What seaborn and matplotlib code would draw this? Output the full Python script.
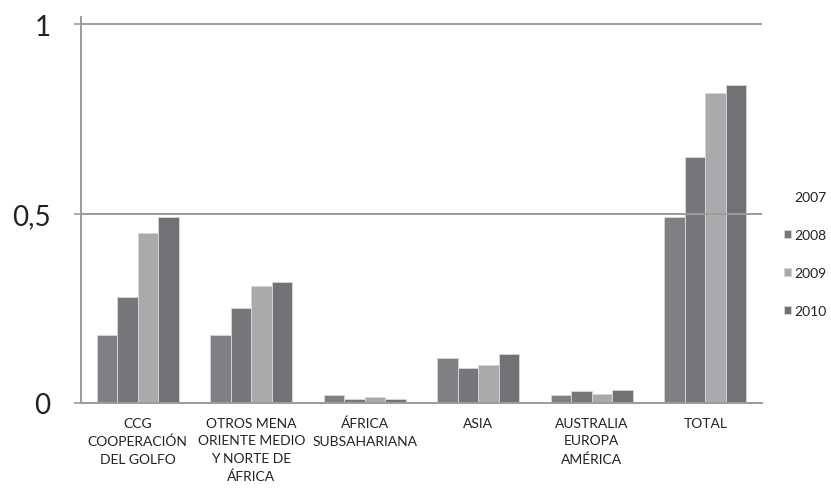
import matplotlib
matplotlib.use("Agg")
import matplotlib.pyplot as plt
import seaborn as sns
import pandas as pd

categories = ["CCG\nCOOPERACIÓN\nDEL GOLFO",
              "OTROS MENA\nORIENTE MEDIO\nY NORTE DE\nÁFRICA",
              "ÁFRICA\nSUBSAHARIANA",
              "ASIA",
              "AUSTRALIA\nEUROPA\nAMÉRICA",
              "TOTAL"]
years = ["2007", "2008", "2009", "2010"]
v2007 = [0.18, 0.18, 0.021, 0.12, 0.02, 0.49]
v2008 = [0.28, 0.25, 0.010, 0.092, 0.031, 0.65]
v2009 = [0.45, 0.31, 0.016, 0.10, 0.025, 0.82]
v2010 = [0.49, 0.32, 0.011, 0.13, 0.035, 0.84]
ytick_vals = [0, 0.5, 1]
ytick_labels = ["0", "0,5", "1"]

colors = ["#808084", "#77777b", "#aaaaac", "#727276"]

rows = []
for y, vals in zip(years, [v2007, v2008, v2009, v2010]):
    for c, v in zip(categories, vals):
        rows.append({"cat": c, "year": y, "val": v})
df = pd.DataFrame(rows)

sns.set_theme(style="white")
plt.rcParams["font.family"] = ["Lato", "DejaVu Sans"]

fig = plt.figure(figsize=(8.31, 4.89), dpi=100)
ax = fig.add_axes([81/831, 1-404/489, (762-81)/831, (404-18.2)/489])

sns.barplot(data=df, x="cat", y="val", hue="year", order=categories,
            hue_order=years, palette=colors, saturation=1, width=0.72,
            edgecolor="#d4d4d4", linewidth=0.7, ax=ax, errorbar=None)

ax.set_ylim(0, 1.019)
ax.set_xlim(-0.5, 5.5)
ax.set_yticks(ytick_vals)
ax.set_yticklabels(ytick_labels, fontsize=20, color="#222222")
ax.yaxis.grid(True, color="#9c9c9c", linewidth=1.4)
ax.set_axisbelow(False)
ax.set_xlabel("")
ax.set_ylabel("")
ax.tick_params(axis="y", length=5, width=1.2, color="#9c9c9c", pad=17, left=True)
ax.tick_params(axis="x", length=0, pad=10, labelsize=10, labelcolor="#222222")
for lab in ax.get_xticklabels():
    lab.set_linespacing(1.55)
for s in ["top", "right"]:
    ax.spines[s].set_visible(False)
for s in ["left", "bottom"]:
    ax.spines[s].set_color("#9c9c9c")
    ax.spines[s].set_linewidth(1.4)

ax.legend_.remove()
leg = fig.legend(*ax.get_legend_handles_labels(), loc="center left",
                 bbox_to_anchor=(777/831, 1-255/489), frameon=False,
                 fontsize=10, labelspacing=1.88, handlelength=0.5,
                 handleheight=0.5, handletextpad=0.25, borderpad=0)
for t in leg.get_texts():
    t.set_color("#222222")
leg.legend_handles[0].set_facecolor("white")
leg.legend_handles[0].set_edgecolor("white")

fig.savefig("out.png", dpi=100)
